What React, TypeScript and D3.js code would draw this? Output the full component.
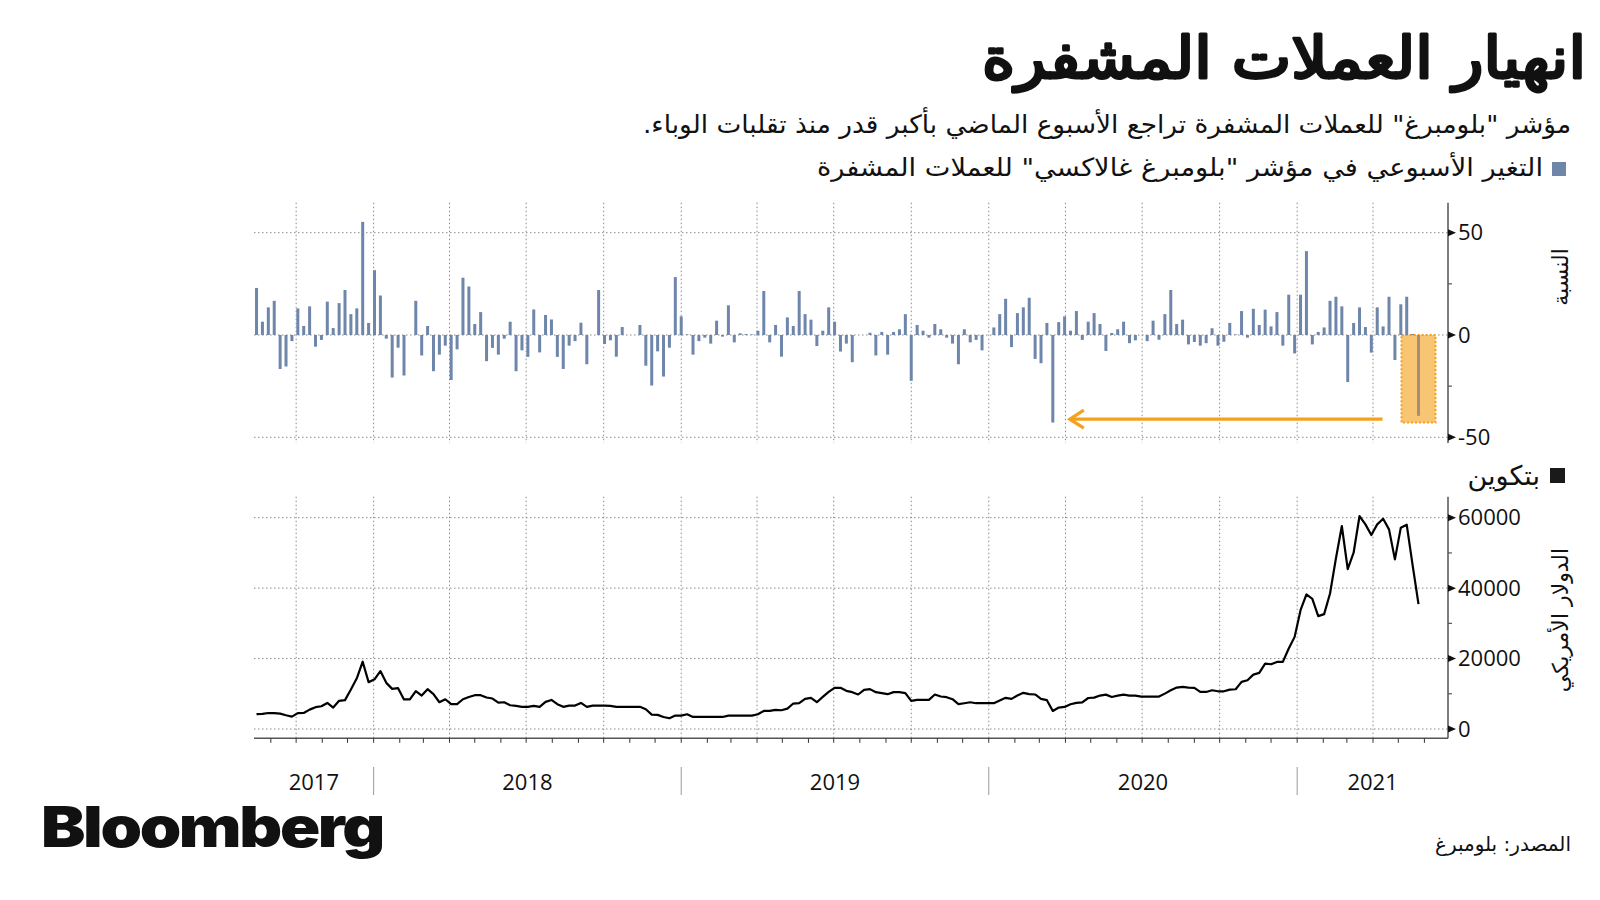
import { useLayoutEffect, useRef } from "react";
import * as d3 from "d3";

// weekly % change of the Bloomberg Galaxy Crypto Index, one value per week from mid-Aug 2017
const weeklyChange = [
  23, 6.5, 13.5, 16.7, -16.6, -15.4, -3, 13, 4.4, 14,
  -5.7, -2.4, 16.3, 3.4, 15.6, 22, 10.2, 13, 55.3, 5.9,
  31.7, 19.3, -1.8, -20.8, -6.2, -19.8, 0, 16.7, -10, 4.4,
  -17.7, -9.6, -5.2, -22, -7, 28, 23.7, 5.4, 11.2, -12.8,
  -6.3, -9.6, -1.8, 6.5, -17.7, -7.5, -10.7, 12.5, -8.5, 9.8,
  7.6, -10.7, -16.6, -5.2, -3, 6, -14.3, 0, 22, -4.4,
  -2.6, -10.6, 3.9, 0, 0, 4.9, -15, -24.7, -8, -20.3,
  -6.2, 28.3, 9.1, 0.3, -9.6, -3, -1.3, -4.2, 7, -0.8,
  14.5, -3.6, 0.8, 0.5, 0.3, 2.1, 21.5, -3.6, 4.9, -10.6,
  8.6, 4.4, 21.5, 10.2, 7.5, -5.4, 2.1, 13.5, 6.5, -8.1,
  -4.2, -13.3, 0, 0, 1.1, -10, 1.5, -9.6, 1.5, 2.8,
  10.2, -22.4, 4.9, 2.1, -1.3, 5.4, 2.8, -1.3, -4.2, -14.3,
  2.8, -3.6, -2.4, -7.5, 0, 3.7, 10.2, 17.7, -5.9, 10.7,
  13.5, 18.2, -11.7, -13.8, 5.9, -42.8, 6.3, 9.1, 2.1, 11.7,
  -2.4, 6.5, 10.7, 5.4, -7.8, 1, 2.8, 6.5, -4, -2.6,
  0, -3, 7, -2.3, 10.2, 22, 5.4, 7.5, -4.6, -3.4,
  -5.2, -4, 3.3, -5.2, -3.3, 5.9, 0.3, 11.7, -1.3, 12.8,
  4.9, 12.4, 4.2, 11.2, -5.2, 19.7, -9, 19.7, 41, -4.6,
  1.5, 3.7, 16.7, 18.7, 14, -23, 5.9, 13.5, 3.9, -8.6,
  13.5, 4.2, 18.7, -12.2, 15, 18.7, 0.5, -39.5,
];

// bitcoin weekly price, USD, same weeks
const btcPrice = [
  4200, 4300, 4550, 4500, 4350, 3900, 3500, 4500, 4560, 5500,
  6200, 6450, 7400, 6100, 8000, 8200, 11200, 14400, 19100, 13300,
  14100, 16450, 13100, 11400, 11600, 8400, 8400, 10750, 9500, 11300,
  9900, 7600, 8450, 7050, 7050, 8450, 9100, 9600, 9600, 8950,
  8650, 7500, 7600, 6750, 6550, 6300, 6300, 6550, 6300, 7700,
  8250, 7050, 6300, 6650, 6650, 7400, 6300, 6650, 6650, 6650,
  6550, 6300, 6300, 6300, 6300, 6300, 5600, 4100, 4000, 3420,
  3040, 3800, 3800, 4180, 3420, 3420, 3420, 3420, 3420, 3420,
  3800, 3800, 3800, 3800, 3800, 4180, 5130, 5130, 5420, 5330,
  5800, 7230, 7320, 8560, 8840, 7600, 9130, 10560, 11700, 11700,
  10840, 10460, 9800, 11130, 11320, 10460, 10180, 9890, 10460, 10460,
  10180, 7990, 8270, 8270, 8270, 9800, 9220, 9030, 8460, 7040,
  7320, 7600, 7320, 7320, 7320, 7320, 8080, 8840, 8560, 9510,
  10270, 9890, 9800, 8560, 8180, 5130, 6090, 6260, 7020, 7400,
  7580, 8800, 8900, 9500, 9760, 9100, 9480, 9760, 9480, 9480,
  9200, 9200, 9200, 9200, 10050, 11000, 11750, 11950, 11750, 11660,
  10520, 10520, 11000, 10710, 10710, 11190, 11280, 13370, 13840, 15450,
  15930, 18580, 18390, 19050, 19050, 22850, 26160, 33750, 38200, 36970,
  32040, 32610, 38490, 48440, 57640, 45410, 50050, 60480, 58110, 55080,
  58110, 59720, 56690, 48160, 57170, 58020, 46550, 35460,
];

const changeTicks = [-50, 0, 50];
const changeMinor = [-25, 25];
const priceTicks = [0, 20000, 40000, 60000];
const priceMinor = [10000, 30000, 50000];
const years = [2017, 2018, 2019, 2020, 2021];

const firstWeek = new Date(2017, 7, 15);
const dates = weeklyChange.map((_, i) => d3.timeDay.offset(firstWeek, i * 7));

const arabic = "'DejaVu Sans', sans-serif";
const numFont = "'Open Sans', 'DejaVu Sans', sans-serif";
const barColor = "#6f86ab";
const orange = "#f5a11c";
const gridColor = "#8a8a8a";
const axisColor = "#555";

export default function App() {
  const titleRef = useRef<SVGTextElement>(null);

  // fit the heavy title into the reference box
  useLayoutEffect(() => {
    const el = titleRef.current;
    if (!el) return;
    el.removeAttribute("transform");
    const b = el.getBBox();
    const sx = 604 / b.width;
    const tx = 1586 - sx * (b.x + b.width);
    el.setAttribute("transform", `translate(${tx},0) scale(${sx},1)`);
  }, []);

  const domainStart = new Date(2017, 7, 12);
  const domainEnd = new Date(2021, 5, 29);
  const x = d3.scaleTime().domain([domainStart, domainEnd]).range([254, 1448]);
  const [x0, x1] = x.range();

  const yTop = d3.scaleLinear().domain([-50, 50]).range([437.3, 232.7]);
  const topAxis = [202.7, 443];
  const yBot = d3.scaleLinear().domain([0, 60000]).range([729, 517.7]);
  const botAxis = [496.7, 738.3];

  const quarters = d3.timeMonth.every(3)!.range(domainStart, domainEnd);
  const months = d3.timeMonth.range(domainStart, domainEnd);
  const yearStarts = d3.timeYear.range(domainStart, domainEnd);

  const line = d3.line<number>()
    .x((_, i) => x(dates[i]))
    .y(d => yBot(d));

  const barW = 3;
  const last = weeklyChange.length - 1;
  const lastX = x(dates[last]);
  const minIdx = d3.minIndex(weeklyChange.slice(0, last));
  const arrowY = yTop((weeklyChange[minIdx] + weeklyChange[last]) / 2);
  const arrowX1 = x(dates[minIdx]) + 17;
  const arrowX2 = lastX - 36;

  const yearBands = years.map(yr => {
    const a = Math.max(x0, x(new Date(yr, 0, 1)));
    const b = Math.min(x1, x(new Date(yr + 1, 0, 1)));
    return { yr, cx: (a + b) / 2 };
  });

  const tri = (y: number) => `M${x1},${y - 3.5}L${x1 + 8},${y}L${x1},${y + 3.5}Z`;

  return (
    <div style={{ position: "absolute", left: 0, top: 0 }}>
      <svg width={1600} height={900} style={{ display: "block", background: "#fff" }}>
        {/* titles */}
        <text ref={titleRef} x={1571} y={78} direction="rtl" textAnchor="start" fontFamily={arabic}
          fontSize={58} fill="#111" stroke="#111" strokeWidth={3} strokeLinejoin="round">انهيار العملات المشفرة</text>
        <text x={1571} y={133} direction="rtl" textAnchor="start" fontFamily={arabic}
          fontSize={25} fill="#111" textLength={928} lengthAdjust="spacingAndGlyphs">مؤشر "بلومبرغ" للعملات المشفرة تراجع الأسبوع الماضي بأكبر قدر منذ تقلبات الوباء.</text>
        <rect x={1552} y={162} width={14} height={14} fill={barColor} />
        <text x={1543} y={176} direction="rtl" textAnchor="start" fontFamily={arabic}
          fontSize={25} fill="#111" textLength={726} lengthAdjust="spacingAndGlyphs">التغير الأسبوعي في مؤشر "بلومبرغ غالاكسي" للعملات المشفرة</text>

        {/* top chart grid */}
        {quarters.map((d, i) => (
          <line key={"tq" + i} x1={x(d)} x2={x(d)} y1={topAxis[0]} y2={topAxis[1]}
            stroke={gridColor} strokeWidth={1} strokeDasharray="1.5,2.5" />
        ))}
        {changeTicks.map(t => (
          <line key={"th" + t} x1={x0} x2={x1} y1={yTop(t)} y2={yTop(t)}
            stroke={gridColor} strokeWidth={1} strokeDasharray="1.5,2.5" />
        ))}

        {/* highlight box */}
        <rect x={lastX - 17} y={yTop(0)} width={34} height={yTop(weeklyChange[minIdx]) - yTop(0)}
          fill={orange} fillOpacity={0.38} stroke={orange} strokeWidth={2} strokeDasharray="2,2" />

        {/* bars */}
        {weeklyChange.map((v, i) => (
          <rect key={"b" + i} x={x(dates[i]) - barW / 2} width={barW}
            y={Math.min(yTop(v), yTop(0))} height={Math.abs(yTop(v) - yTop(0))}
            fill={barColor} />
        ))}
        <rect x={lastX - 17} y={yTop(0)} width={34} height={yTop(weeklyChange[minIdx]) - yTop(0)}
          fill={orange} fillOpacity={0.38} />

        {/* arrow */}
        <line x1={arrowX2} x2={arrowX1} y1={arrowY} y2={arrowY} stroke={orange} strokeWidth={3.2} />
        <path d={`M${arrowX1 + 14},${arrowY - 9}L${arrowX1},${arrowY}L${arrowX1 + 14},${arrowY + 9}`}
          fill="none" stroke={orange} strokeWidth={3.2} />

        {/* top axis */}
        <line x1={x1} x2={x1} y1={topAxis[0]} y2={topAxis[1]} stroke={axisColor} strokeWidth={1.5} />
        {changeTicks.map(t => (
          <g key={"tt" + t}>
            <path d={tri(yTop(t))} fill="#111" />
            <text x={x1 + 10} y={yTop(t)} dy="0.35em" fontFamily={numFont} fontSize={22} fill="#111">{t}</text>
          </g>
        ))}
        {changeMinor.map(t => (
          <line key={"tm" + t} x1={x1} x2={x1 + 4} y1={yTop(t)} y2={yTop(t)} stroke={axisColor} strokeWidth={1.2} />
        ))}
        <text transform="translate(1560,277) rotate(-90)" textAnchor="middle" dy="0.35em"
          fontFamily={arabic} fontSize={22} fill="#111">النسبة</text>

        {/* bottom legend */}
        <rect x={1550} y={468} width={15} height={15} fill="#1a1a1a" />
        <text x={1540} y={485} direction="rtl" textAnchor="start" fontFamily={arabic}
          fontSize={27} fill="#111">بتكوين</text>

        {/* bottom chart grid */}
        {quarters.map((d, i) => (
          <line key={"bq" + i} x1={x(d)} x2={x(d)} y1={botAxis[0]} y2={botAxis[1]}
            stroke={gridColor} strokeWidth={1} strokeDasharray="1.5,2.5" />
        ))}
        {priceTicks.map(t => (
          <line key={"bh" + t} x1={x0} x2={x1} y1={yBot(t)} y2={yBot(t)}
            stroke={gridColor} strokeWidth={1} strokeDasharray="1.5,2.5" />
        ))}

        <path d={line(btcPrice) ?? ""} fill="none" stroke="#000" strokeWidth={2.2} strokeLinejoin="round" />

        {/* bottom axes */}
        <line x1={x1} x2={x1} y1={botAxis[0]} y2={botAxis[1]} stroke={axisColor} strokeWidth={1.5} />
        <line x1={x0} x2={x1} y1={botAxis[1]} y2={botAxis[1]} stroke={axisColor} strokeWidth={1.5} />
        {months.map((d, i) => (
          <line key={"mt" + i} x1={x(d)} x2={x(d)} y1={botAxis[1]} y2={botAxis[1] + 4.5}
            stroke="#333" strokeWidth={1} />
        ))}
        {priceTicks.map(t => (
          <g key={"bt" + t}>
            <path d={tri(yBot(t))} fill="#111" />
            <text x={x1 + 10} y={yBot(t)} dy="0.35em" fontFamily={numFont} fontSize={22} fill="#111">{t}</text>
          </g>
        ))}
        {priceMinor.map(t => (
          <line key={"bm" + t} x1={x1} x2={x1 + 4} y1={yBot(t)} y2={yBot(t)} stroke={axisColor} strokeWidth={1.2} />
        ))}
        <text transform="translate(1560,620) rotate(-90)" textAnchor="middle" dy="0.35em"
          fontFamily={arabic} fontSize={22} fill="#111">الدولار الأمريكي</text>

        {/* year labels */}
        {yearStarts.map((d, i) => (
          <line key={"ys" + i} x1={x(d)} x2={x(d)} y1={767} y2={795} stroke="#999" strokeWidth={1} />
        ))}
        {yearBands.map(b => (
          <text key={"yl" + b.yr} x={b.cx} y={782} dy="0.35em" textAnchor="middle"
            fontFamily={numFont} fontSize={22} fill="#111">{b.yr}</text>
        ))}

        {/* footer */}
        <text x={41} y={847} fontFamily="Inter, 'Liberation Sans', Arial, sans-serif" fontWeight={900}
          fontSize={56} letterSpacing={-2} textLength={342} lengthAdjust="spacingAndGlyphs" fill="#111">Bloomberg</text>
        <text x={1571} y={851} direction="rtl" textAnchor="start" fontFamily={arabic}
          fontSize={20} fill="#111">المصدر: بلومبرغ</text>
      </svg>
    </div>
  );
}
